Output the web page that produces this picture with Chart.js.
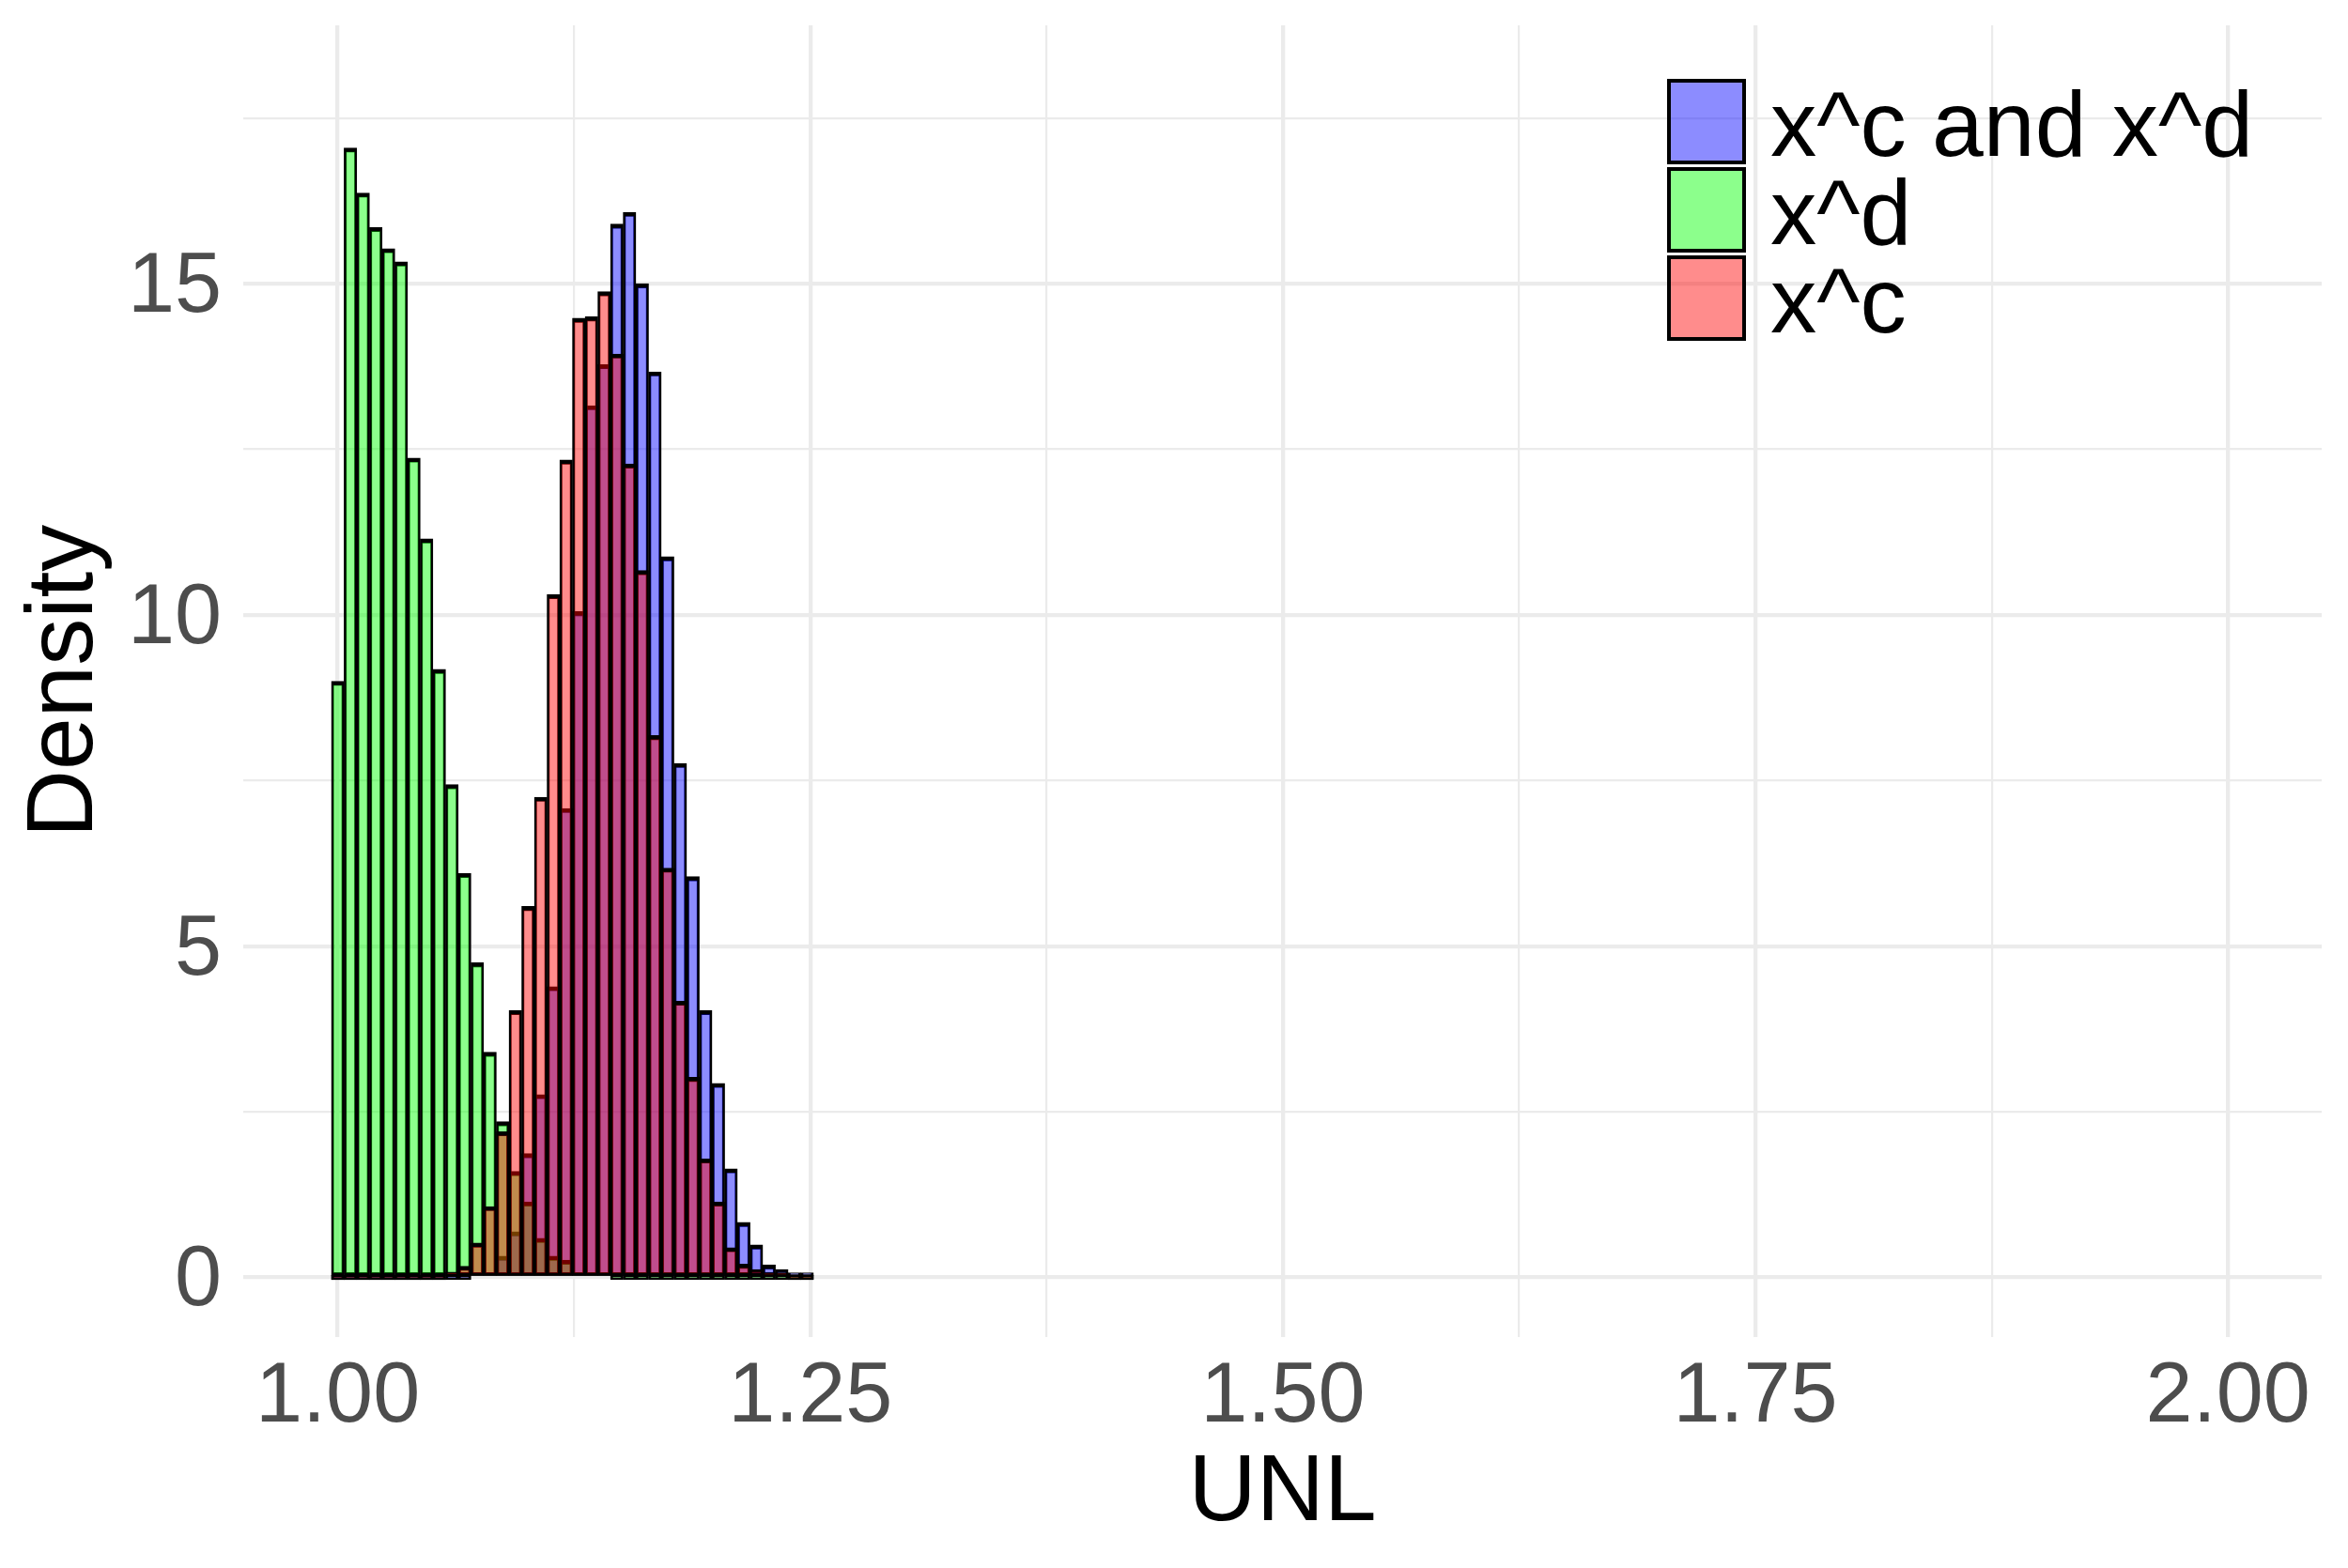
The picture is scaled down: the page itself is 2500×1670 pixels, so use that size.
<!DOCTYPE html>
<html>
<head>
<meta charset="utf-8">
<script src="https://cdn.jsdelivr.net/npm/chart.js@4.4.1/dist/chart.umd.min.js"></script>
<style>
  html, body { margin: 0; padding: 0; background: #ffffff; }
  #wrap { position: relative; width: 2500px; height: 1670px; overflow: hidden; }
  #c { position: absolute; left: 0; top: 0; }
  .lg-box { position: absolute; box-sizing: border-box; border: 4px solid #000; }
  .lg-text { position: absolute; font-family: 'Liberation Sans', Arial, sans-serif; font-size: 98.5px; line-height: 100px; color: #000; white-space: nowrap; }
</style>
</head>
<body>
<div id="wrap">
  <canvas id="c" width="2500" height="1670"></canvas>
  <div id="legend"></div>
</div>
<script>
// ---- data (bin centres of the histogram, densities) ----
const binCenters = [
  1.00000, 1.00671, 1.01342, 1.02013, 1.02685, 1.03356, 1.04027, 1.04698, 1.05369, 1.06040,
  1.06711, 1.07383, 1.08054, 1.08725, 1.09396, 1.10067, 1.10738, 1.11409, 1.12081, 1.12752,
  1.13423, 1.14094, 1.14765, 1.15436, 1.16107, 1.16779, 1.17450, 1.18121, 1.18792, 1.19463,
  1.20134, 1.20805, 1.21477, 1.22148, 1.22819, 1.23490, 1.24161, 1.24832
];
const seriesNames = ['x^c and x^d', 'x^d', 'x^c'];
// x^c and x^d (blue)
const densityBoth = [
  0, 0, 0, 0, 0, 0, 0, 0, 0, 0,
  0, 0.03, 0.05, 0.32, 0.69, 1.87, 2.76, 4.39, 7.08, 10.05,
  13.16, 13.78, 15.90, 16.08, 15.00, 13.67, 10.88, 7.76, 6.05, 4.03,
  2.93, 1.64, 0.83, 0.49, 0.19, 0.12, 0.04, 0.02
];
// x^d (green)
const densityD = [
  9.00, 17.05, 16.37, 15.85, 15.53, 15.33, 12.37, 11.15, 9.18, 7.44,
  6.10, 4.75, 3.40, 2.35, 1.60, 1.14, 0.59, 0.32, 0.26, 0.05,
  0.06, 0.03, 0, 0, 0, 0, 0, 0, 0, 0,
  0, 0, 0, 0, 0, 0, 0, 0
];
// x^c (red)
const densityC = [
  0, 0, 0, 0, 0, 0, 0, 0, 0, 0.08,
  0.17, 0.52, 1.07, 2.20, 4.03, 5.60, 7.25, 10.31, 12.34, 14.48,
  14.50, 14.88, 13.94, 12.28, 10.67, 8.18, 6.18, 4.17, 3.02, 1.79,
  1.14, 0.45, 0.20, 0.12, 0.06, 0.02, 0, 0
];
const xMajorTicks = [1, 1.25, 1.5, 1.75, 2];
const xTickLabels = ['1.00', '1.25', '1.50', '1.75', '2.00'];
const xMinorTicks = [1.125, 1.375, 1.625, 1.875];
const yMajorTicks = [0, 5, 10, 15];
const yTickLabels = ['0', '5', '10', '15'];
const yMinorTicks = [2.5, 7.5, 12.5, 17.5];

// ---- styles ----
const fills = ['rgba(0,0,255,0.45)', 'rgba(0,255,0,0.45)', 'rgba(255,0,0,0.45)'];
const drawOrder = [3, 2, 1]; // blue bottom, red on top
const FONT = "'Liberation Sans', Arial, sans-serif";
const GRID = '#EBEBEB';

const seriesValues = [densityBoth, densityD, densityC];
const datasets = seriesValues.map((vals, i) => ({
  label: seriesNames[i],
  data: binCenters.map((x, j) => ({ x: x, y: vals[j] })),
  backgroundColor: fills[i],
  borderColor: '#000000',
  borderWidth: { top: 4.5, left: 2.4, right: 2.4, bottom: 3 },
  borderSkipped: false,
  minBarLength: 5,
  barPercentage: 1.0,
  categoryPercentage: 1.0,
  grouped: false,
  order: drawOrder[i]
}));

function findIdx(list, v) {
  return list.findIndex(t => Math.abs(t - v) < 1e-9);
}
const xTickValues = [...xMajorTicks, ...xMinorTicks].sort((a, b) => a - b);
const yTickValues = [...yMajorTicks, ...yMinorTicks].sort((a, b) => a - b);

new Chart(document.getElementById('c'), {
  type: 'bar',
  data: { datasets: datasets },
  options: {
    responsive: false,
    devicePixelRatio: 1,
    animation: false,
    events: [],
    layout: { padding: { top: 27, right: 28, left: 0, bottom: 0 } },
    plugins: { legend: { display: false }, tooltip: { enabled: false } },
    scales: {
      x: {
        type: 'linear',
        min: 0.95,
        max: 2.0496,
        offset: false,
        grid: {
          offset: false,
          color: GRID,
          lineWidth: (ctx) => (ctx.tick && findIdx(xMajorTicks, ctx.tick.value) >= 0) ? 4.3 : 2.2,
          drawTicks: false
        },
        border: { display: false },
        afterBuildTicks: (s) => { s.ticks = xTickValues.map(v => ({ value: v })); },
        afterFit: (s) => { s.height = 246; s.paddingLeft = 0; s.paddingRight = 0; },
        ticks: {
          autoSkip: false,
          maxRotation: 0,
          minRotation: 0,
          padding: 11,
          color: '#4D4D4D',
          font: { family: FONT, size: 90 },
          callback: (v) => { const i = findIdx(xMajorTicks, v); return i >= 0 ? xTickLabels[i] : ''; }
        },
        title: {
          display: true,
          text: 'UNL',
          color: '#000000',
          font: { family: FONT, size: 100 },
          padding: { top: 0, bottom: 19 }
        }
      },
      y: {
        type: 'linear',
        min: -0.9,
        max: 18.9,
        grid: {
          color: GRID,
          lineWidth: (ctx) => (ctx.tick && findIdx(yMajorTicks, ctx.tick.value) >= 0) ? 4.3 : 2.2,
          drawTicks: false
        },
        border: { display: false },
        afterBuildTicks: (s) => { s.ticks = yTickValues.map(v => ({ value: v })); },
        afterFit: (s) => { s.width = 259; s.paddingTop = 0; s.paddingBottom = 0; },
        ticks: {
          autoSkip: false,
          padding: 23,
          labelOffset: 5,
          color: '#4D4D4D',
          font: { family: FONT, size: 90 },
          callback: (v) => { const i = findIdx(yMajorTicks, v); return i >= 0 ? yTickLabels[i] : ''; }
        },
        title: {
          display: true,
          text: 'Density',
          color: '#000000',
          font: { family: FONT, size: 100 },
          padding: { top: 10, bottom: 0 }
        }
      }
    }
  }
});

// ---- legend (top right inside the panel) ----
const legend = document.getElementById('legend');
const boxTops = [84, 178, 272];
const textTops = [82, 176, 270];
seriesNames.forEach((name, i) => {
  const b = document.createElement('div');
  b.className = 'lg-box';
  b.style.left = '1775px';
  b.style.top = boxTops[i] + 'px';
  b.style.width = '84px';
  b.style.height = '91px';
  b.style.background = fills[i];
  legend.appendChild(b);
  const t = document.createElement('div');
  t.className = 'lg-text';
  t.style.left = '1885px';
  t.style.top = textTops[i] + 'px';
  t.textContent = name;
  legend.appendChild(t);
});
</script>
</body>
</html>
